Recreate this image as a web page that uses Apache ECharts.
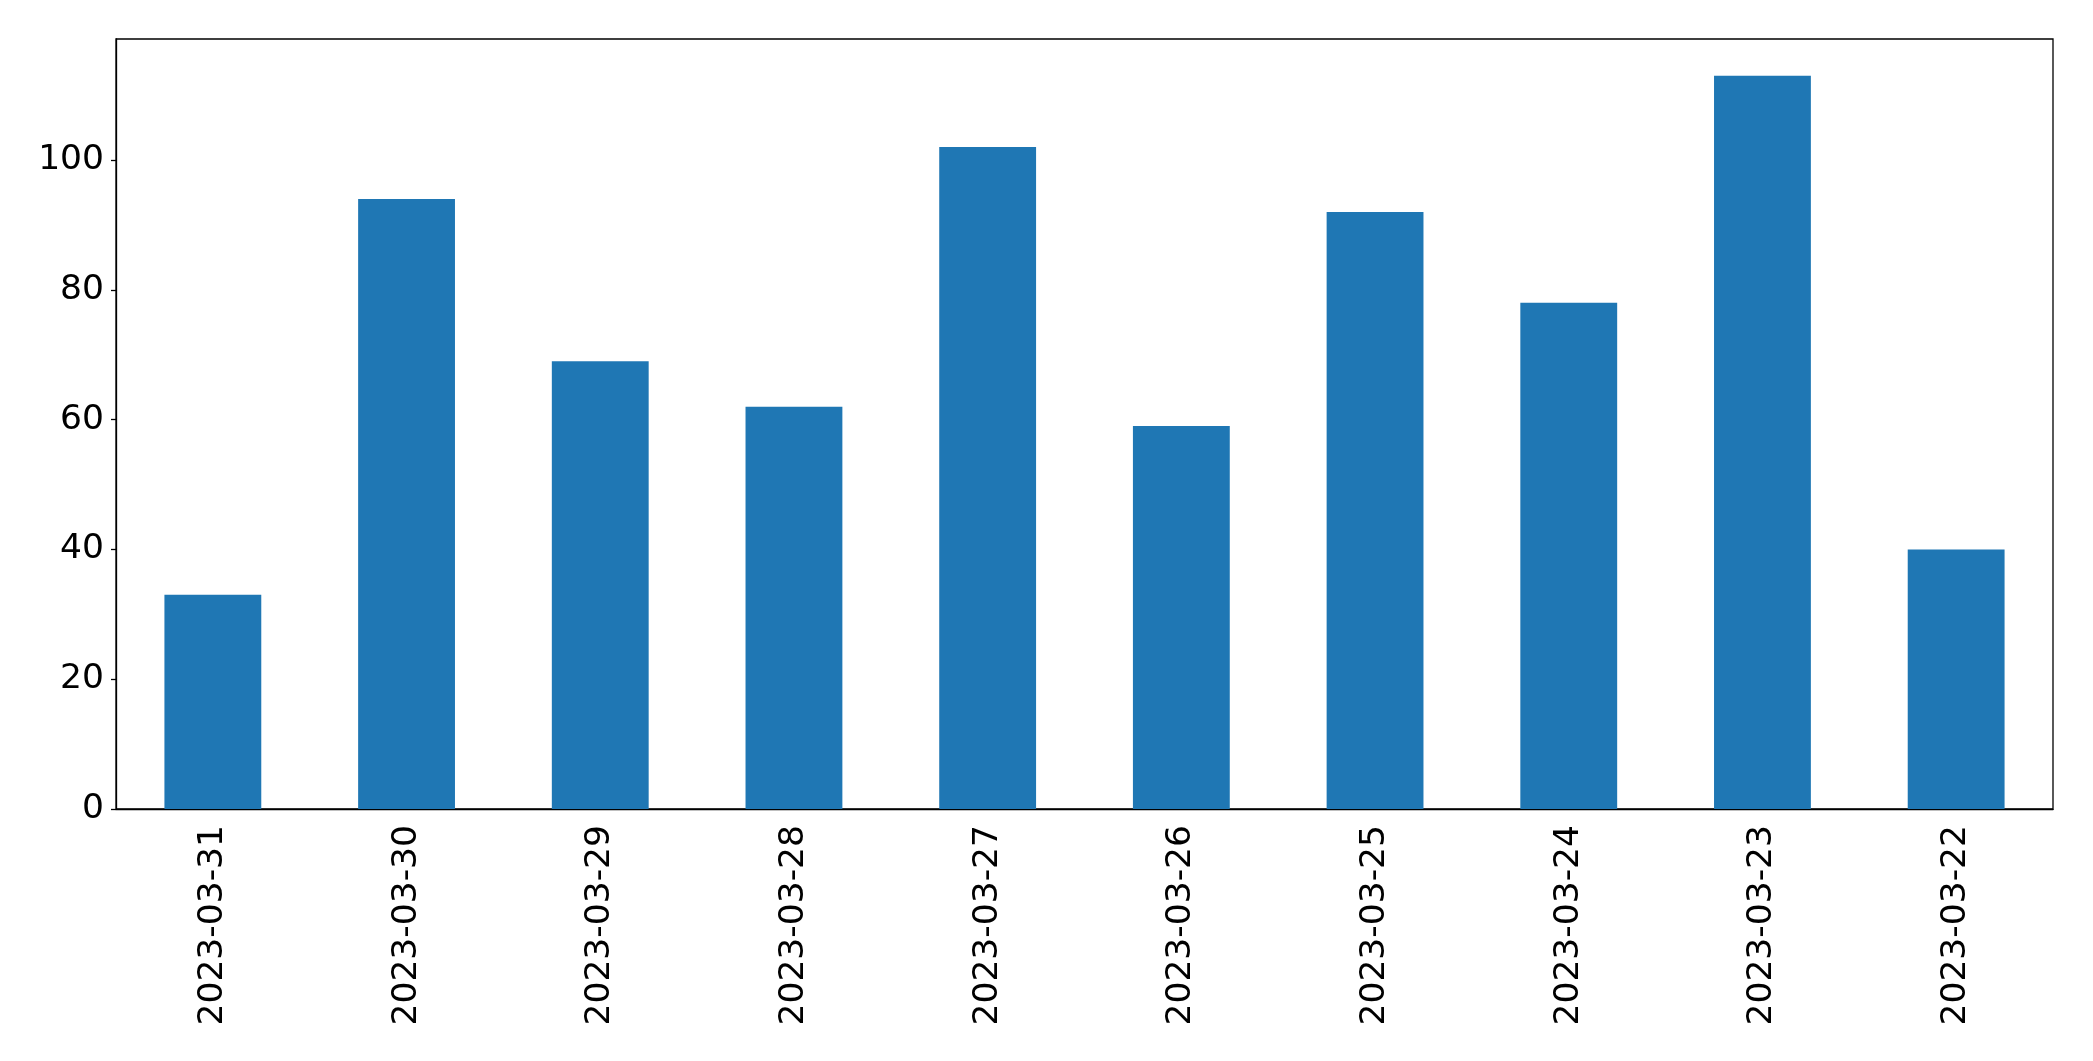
<!DOCTYPE html>
<html>
<head>
<meta charset="utf-8">
<script src="https://cdn.jsdelivr.net/npm/echarts@6/dist/echarts.min.js"></script>
<style>
html, body { margin: 0; padding: 0; background: #fff; }
#chart { width: 2093px; height: 1061px; }
</style>
</head>
<body>
<div id="chart"></div>
<script>
var dates = ['2023-03-31', '2023-03-30', '2023-03-29', '2023-03-28', '2023-03-27',
             '2023-03-26', '2023-03-25', '2023-03-24', '2023-03-23', '2023-03-22'];
var counts = [33, 94, 69, 62, 102, 59, 92, 78, 113, 40];
var yTicks = [0, 20, 40, 60, 80, 100];

var chart = echarts.init(document.getElementById('chart'));
var font = 'DejaVu Sans';
var option = {
    animation: false,
    grid: {
        left: 116, top: 39, right: 40, bottom: 252,
        show: true, borderColor: '#000', borderWidth: 1.3
    },
    xAxis: {
        type: 'category',
        data: dates,
        boundaryGap: true,
        axisLine: { lineStyle: { color: '#000', width: 1.3 } },
        axisTick: { alignWithLabel: true, length: 5, lineStyle: { color: '#000', width: 1.3 } },
        axisLabel: { rotate: 90, margin: 16, color: '#000', fontSize: 34.5, fontFamily: font, interval: 0, padding: [10, 0, 0, 0] }
    },
    yAxis: {
        type: 'value',
        min: 0,
        max: Math.max.apply(null, counts) * 1.05,
        interval: 20,
        splitLine: { show: false },
        axisLine: { show: true, lineStyle: { color: '#000', width: 1.3 } },
        axisTick: { show: true, length: 5, customValues: yTicks, lineStyle: { color: '#000', width: 1.3 } },
        axisLabel: { margin: 12, color: '#000', fontSize: 34.5, fontFamily: font, customValues: yTicks, padding: [13, 0, 0, 0] }
    },
    series: [{
        type: 'bar',
        data: counts,
        barWidth: '50%',
        itemStyle: { color: '#1f77b4' }
    }]
};
chart.setOption(option);
</script>
</body>
</html>
